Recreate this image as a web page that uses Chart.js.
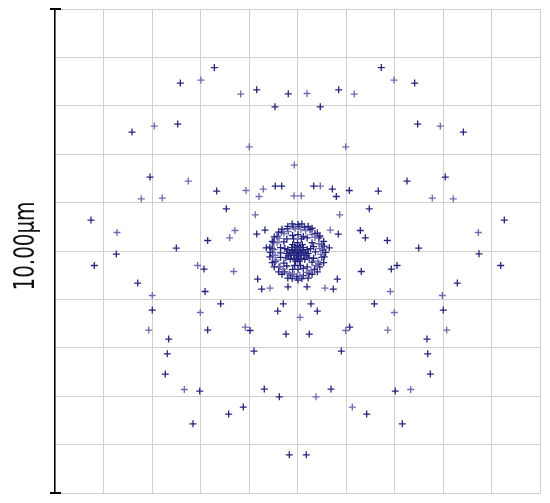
<!DOCTYPE html>
<html>
<head>
<meta charset="utf-8">
<script src="https://cdn.jsdelivr.net/npm/chart.js@4/dist/chart.umd.min.js"></script>
<style>
html,body{margin:0;padding:0;background:#fff;}
#wrap{width:550px;height:503px;position:relative;}
</style>
</head>
<body>
<div id="wrap"><canvas id="c"></canvas></div>
<script>
// Scale bar label and axis range (µm)
const scaleLabel = "10.00\u00b5m";
const axisMin = -5, axisMax = 5, gridStep = 1;

// Outer spot rays, dark series [x µm, y µm]
const spotDark = [
 [-1.715,3.79],[-2.416,3.469],[-0.841,3.331],[-0.19,3.248],[-0.464,2.979],[-3.412,2.457],[-2.47,2.622],
 [-3.041,1.527],[-1.666,1.238],[-0.458,1.341],[-0.326,1.341],[-1.468,0.872],[-4.258,0.638],[-1.852,0.217],
 [-0.841,0.349],[-0.67,0.432],[-2.499,0.06],[-3.736,-0.064],[-0.643,0.066],
 [1.728,3.79],[2.416,3.469],[0.849,3.331],[0.47,2.979],[2.478,2.622],[3.419,2.457],[2.258,1.444],[3.047,1.527],
 [0.334,1.341],[0.718,1.279],[0.8,1.126],[1.068,1.25],[1.666,1.238],[1.48,0.872],[4.264,0.638],
 [0.841,0.349],[1.295,0.424],[1.398,0.273],[1.852,0.217],[2.499,0.06],[3.742,-0.058],[0.656,0.066],
 [-4.19,-0.3],[-3.295,-0.663],[-2.994,-1.221],[-2.656,-1.82],[-2.685,-2.124],[-2.726,-2.543],[-2.016,-2.895],
 [-2.155,-3.57],[-1.419,-3.37],[-1.118,-3.225],[-0.685,-2.853],[-0.375,-3.012],[-0.169,-4.211],
 [-1.928,-0.374],[-1.907,-0.837],[-1.584,-1.091],[-1.852,-1.634],[-0.979,-1.643],[-0.897,-2.068],
 [-0.821,-0.581],[-0.738,-0.787],[-0.196,-0.74],[-0.293,-1.091],[-0.408,-1.242],[-0.237,-1.717],
 [4.19,-0.3],[3.295,-0.663],[3.006,-1.221],[2.67,-1.82],[2.685,-2.124],[2.738,-2.543],[2.016,-2.895],
 [2.161,-3.57],[1.427,-3.37],[0.691,-2.853],[0.181,-4.211],
 [2.052,-0.3],[1.934,-0.374],[1.315,-0.424],[1.584,-1.091],[1.076,-1.572],[0.903,-2.068],
 [0.821,-0.581],[0.738,-0.787],[0.196,-0.74],[0.278,-1.091],[0.408,-1.242],[0.243,-1.717]
];

// Outer spot rays, light series
const spotLight = [
 [-1.99,3.531],[-1.171,3.242],[-2.953,2.581],[-0.994,2.153],[-0.066,1.775],[-2.252,1.444],[-3.221,1.079],
 [-2.788,1.093],[-1.062,1.25],[-0.705,1.279],[-0.794,1.126],[-0.072,1.14],[-0.87,0.748],[-3.722,0.382],
 [-1.289,0.424],[-1.398,0.273],
 [1.99,3.531],[0.196,3.254],[1.171,3.242],[2.944,2.581],[0.994,2.153],[2.779,1.093],[3.212,1.079],
 [0.47,1.341],[0.078,1.14],[0.87,0.748],[3.728,0.382],[0.676,0.432],
 [-2.994,-0.919],[-3.068,-1.634],[-2.334,-2.862],[-2.058,-0.3],[-1.315,-0.424],[-2.004,-1.271],
 [-1.076,-1.572],[-0.567,-0.767],[0.052,-1.37],
 [2.986,-0.919],[3.076,-1.634],[2.334,-2.862],[1.13,-3.225],[0.381,-3.012],[1.913,-0.837],
 [1.996,-1.271],[1.86,-1.634],[0.994,-1.643],[0.567,-0.767]
];

// Central cluster: outer ring (dark)
const coreRingOuter = [
 [0.58,-0.03],[0.55,0.10],[0.54,0.20],[0.46,0.31],[0.41,0.37],[0.30,0.47],[0.22,0.51],[0.09,0.56],[0.01,0.55],
 [-0.11,0.56],[-0.20,0.51],[-0.32,0.45],[-0.39,0.39],[-0.48,0.29],[-0.52,0.20],[-0.57,0.08],[-0.56,-0.03],
 [-0.57,-0.12],[-0.52,-0.24],[-0.48,-0.33],[-0.39,-0.43],[-0.32,-0.48],[-0.20,-0.56],[-0.11,-0.57],[0.01,-0.60],
 [0.09,-0.57],[0.22,-0.56],[0.30,-0.48],[0.41,-0.43],[0.46,-0.33],[0.54,-0.24],[0.55,-0.12]
];
// Central cluster: second ring (dark)
const coreRingSecond = [
 [0.52,0.02],[0.50,0.14],[0.44,0.27],[0.36,0.36],[0.26,0.44],[0.14,0.49],[0.03,0.51],[-0.09,0.50],
 [-0.21,0.46],[-0.33,0.39],[-0.42,0.30],[-0.49,0.18],[-0.52,0.05],[-0.51,-0.09],[-0.46,-0.22],[-0.38,-0.33],
 [-0.27,-0.43],[-0.15,-0.50],[-0.02,-0.53],[0.12,-0.51],[0.24,-0.46],[0.35,-0.38],[0.44,-0.27],[0.50,-0.13]
];
// Central cluster: middle ring (light)
const coreRingMiddle = [
 [0.46,0.05],[0.44,0.15],[0.36,0.28],[0.30,0.34],[0.17,0.42],[0.07,0.44],[-0.05,0.46],[-0.19,0.40],
 [-0.28,0.36],[-0.38,0.26],[-0.42,0.17],[-0.48,0.03],[-0.46,-0.09],[-0.44,-0.19],[-0.36,-0.32],[-0.30,-0.38],
 [-0.17,-0.46],[-0.07,-0.48],[0.05,-0.50],[0.19,-0.44],[0.28,-0.40],[0.38,-0.30],[0.42,-0.21],[0.48,-0.07]
];
// Central cluster: inner ring (dark)
const coreRingInner = [
 [0.37,-0.02],[0.33,0.09],[0.30,0.17],[0.20,0.27],[0.12,0.30],[0.01,0.34],[-0.10,0.32],[-0.22,0.25],
 [-0.28,0.19],[-0.35,0.07],[-0.35,-0.04],[-0.35,-0.13],[-0.28,-0.25],[-0.22,-0.31],[-0.10,-0.38],[0.01,-0.38],
 [0.12,-0.36],[0.20,-0.33],[0.30,-0.23],[0.33,-0.15],
 [0.27,0.05],[-0.26,0.05],[0.24,-0.14],[-0.24,-0.14],[0.08,0.25],[-0.08,0.25],[0.06,-0.30],[-0.06,-0.30]
];
// Central cluster: core (dark)
const coreCenter = [
 [0,-0.04],[0.05,-0.02],[-0.05,-0.02],[0.03,0.03],[-0.03,0.03],[0.08,-0.06],[-0.08,-0.06],[0.02,-0.10],
 [-0.02,-0.10],[0.11,0.01],[-0.11,0.01],[0.13,-0.09],[-0.13,-0.09],[0.06,0.08],[-0.06,0.08],[0.07,-0.15],
 [-0.07,-0.15],[0.16,-0.03],[-0.16,-0.03],[0.12,0.07],[-0.12,0.07],[0.0,0.11],[0.0,-0.18],[0.19,-0.10],
 [-0.19,-0.10],[0.15,-0.17],[-0.15,-0.17],[0.20,0.03],[-0.20,0.03],[0.10,0.13],[-0.10,0.13],[0.04,-0.21],
 [-0.04,-0.21],[0.22,-0.05],[-0.22,-0.05],[0.0,0.17]
];

const DARK = '#25257f';
const LIGHT = '#7068b0';
const toXY = a => a.map(p => ({x:p[0], y:p[1]}));
function ds(arr, color){
  return {data: toXY(arr), pointStyle:'cross', pointRadius:3.5, pointHoverRadius:3.5,
          borderColor:color, backgroundColor:color, pointBorderWidth:1.3, showLine:false};
}

const decor = {
  id:'decor',
  afterDraw(chart){
    const ctx = chart.ctx, a = chart.chartArea;
    ctx.save();
    ctx.strokeStyle = '#000';
    ctx.lineWidth = 2;
    ctx.beginPath();
    ctx.moveTo(a.left-5, a.top); ctx.lineTo(a.left+6, a.top);
    ctx.moveTo(a.left-5, a.bottom); ctx.lineTo(a.left+6, a.bottom);
    ctx.stroke();
    ctx.fillStyle = '#111';
    ctx.font = '29px "Liberation Sans Narrow", "DejaVu Sans Condensed", sans-serif';
    const w = ctx.measureText(scaleLabel).width;
    ctx.translate(34, 246);
    ctx.rotate(-Math.PI/2);
    ctx.scale(89 / w, 1);
    ctx.textAlign = 'center';
    ctx.textBaseline = 'alphabetic';
    ctx.fillText(scaleLabel, 0, 0);
    ctx.restore();
  }
};

new Chart(document.getElementById('c'), {
  type:'scatter',
  data:{datasets:[
    ds(spotLight, LIGHT),
    ds(spotDark, DARK),
    ds(coreRingMiddle, LIGHT),
    ds(coreRingSecond, DARK),
    ds(coreRingOuter, DARK),
    ds(coreRingInner, DARK),
    ds(coreCenter, DARK)
  ]},
  options:{
    responsive:true, maintainAspectRatio:false, animation:false,
    devicePixelRatio:1,
    layout:{padding:{left:55, right:10, top:9, bottom:10}},
    plugins:{legend:{display:false}, tooltip:{enabled:false}},
    scales:{
      x:{type:'linear', min:axisMin, max:axisMax,
         ticks:{display:false, stepSize:gridStep},
         grid:{color:'#cfcfcf', lineWidth:1, drawTicks:false},
         border:{display:true, color:'#cfcfcf', width:1}},
      y:{type:'linear', min:axisMin, max:axisMax,
         ticks:{display:false, stepSize:gridStep},
         grid:{color:'#cfcfcf', lineWidth:1, drawTicks:false},
         border:{display:true, color:'#000', width:1.5}}
    }
  },
  plugins:[decor]
});
</script>
</body>
</html>
